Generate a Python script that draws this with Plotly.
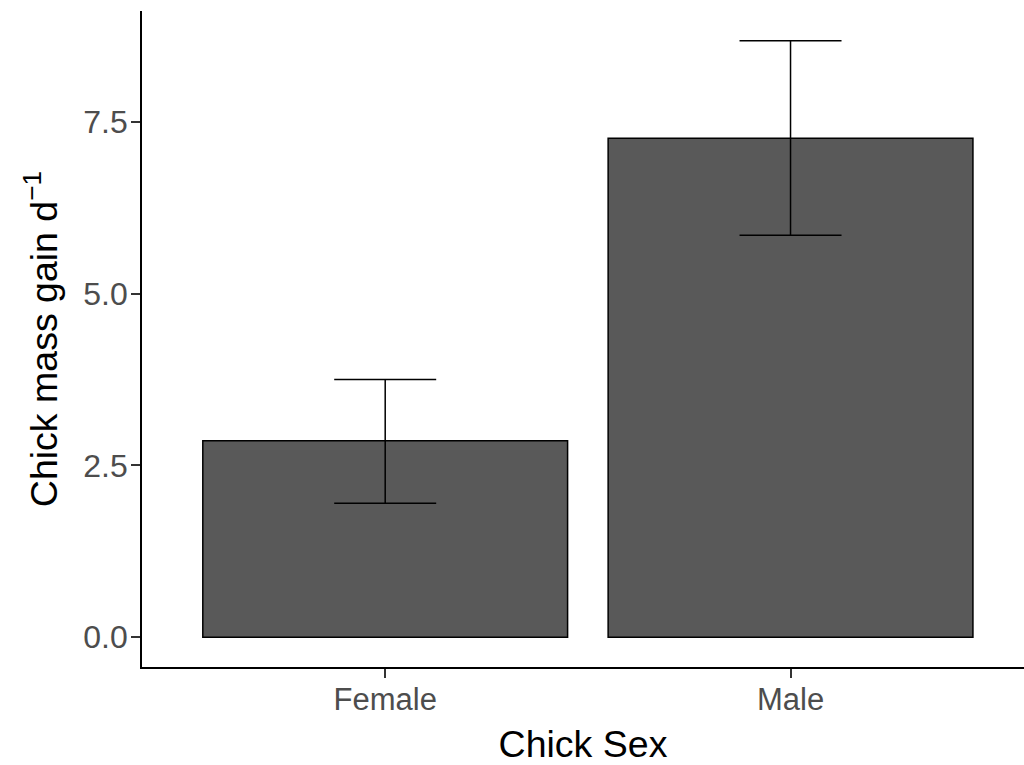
import plotly.graph_objects as go

categories = ["Female", "Male"]
mean_gain = [2.86, 7.26]
se_upper = [0.89, 1.42]
se_lower = [0.91, 1.41]
y_tickvals = [0, 2.5, 5, 7.5]
y_ticktext = ["0.0", "2.5", "5.0", "7.5"]

fig = go.Figure()
fig.add_trace(go.Bar(
    x=categories,
    y=mean_gain,
    width=0.9,
    marker=dict(color="#595959", line=dict(color="black", width=1.5)),
    error_y=dict(type="data", symmetric=False, array=se_upper, arrayminus=se_lower,
                 color="black", thickness=1.5, width=51),
    showlegend=False,
))

FONT = "Liberation Sans, Arial, sans-serif"
fig.update_layout(
    width=1024, height=765,
    margin=dict(l=142, r=0, t=11, b=98),
    paper_bgcolor="white", plot_bgcolor="white",
    font=dict(family=FONT, color="black"),
    xaxis=dict(
        range=[-0.6, 1.576],
        showline=True, linecolor="black", linewidth=1.8,
        ticks="outside", ticklen=9, tickwidth=1.5, tickcolor="#333333",
        ticklabelstandoff=-5,
        tickfont=dict(size=31, color="#4D4D4D", family=FONT),
        showgrid=False, zeroline=False,
        title=dict(text="Chick Sex", font=dict(size=37.5, color="black", family=FONT), standoff=16),
    ),
    yaxis=dict(
        range=[-0.434, 9.113],
        tickvals=y_tickvals, ticktext=y_ticktext,
        showline=True, linecolor="black", linewidth=1.8,
        ticks="outside", ticklen=9, tickwidth=1.5, tickcolor="#333333",
        ticklabelstandoff=-3,
        tickfont=dict(size=32, color="#4D4D4D", family=FONT),
        showgrid=False, zeroline=False,
        title=dict(text="Chick mass gain d<sup>\u22121</sup>", font=dict(size=37.5, color="black", family=FONT), standoff=14),
    ),
)

fig.write_html("out.html")
